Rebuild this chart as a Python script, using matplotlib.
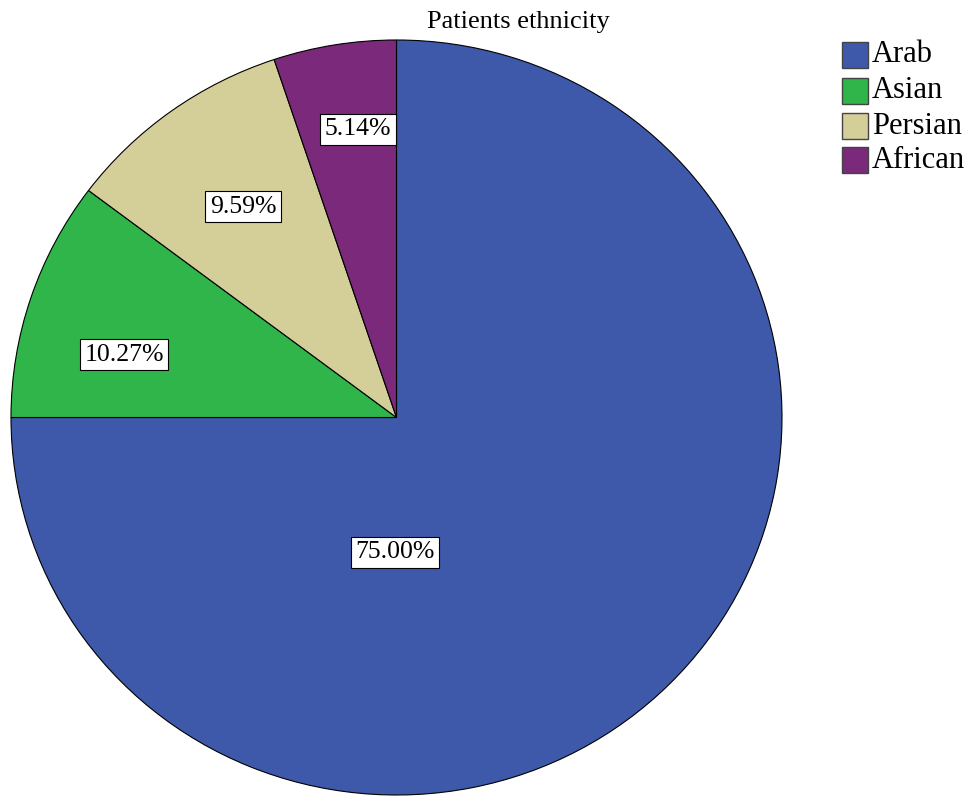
import matplotlib
matplotlib.use("Agg")
import matplotlib.pyplot as plt
from matplotlib.patches import Rectangle

categories = ["Arab", "Asian", "Persian", "African"]
values = [75.00, 10.27, 9.59, 5.14]
colors = ["#3e58aa", "#2fb54a", "#d4ce98", "#7b297b"]
title = "Patients ethnicity"

# label positions (axes data coords), layout only
label_pos = [(-0.004, -0.357), (-0.707, 0.166), (-0.398, 0.558), (-0.100, 0.763)]

plt.rcParams['font.family'] = ['Liberation Serif', 'DejaVu Serif']
W, H = 971, 796
fig = plt.figure(figsize=(W/100, H/100), dpi=100)
ax = fig.add_axes([11/W, (H-795)/H, 771/W, 755/H])
wedges, _ = ax.pie(values, colors=colors, startangle=90, counterclock=False,
                   wedgeprops=dict(edgecolor="black", linewidth=0.8))
ax.set_aspect('auto')
ax.set_xlim(-1, 1)
ax.set_ylim(-1, 1)
ax.axis('off')

for v, (x, y) in zip(values, label_pos):
    ax.text(x, y, f"{v:.2f}%", ha='center', va='center', fontsize=18.5,
            bbox=dict(boxstyle='square,pad=0.18', fc='white', ec='black', lw=0.8))

fig.text(518/W, 1 - 22/H, title, ha='center', va='center', fontsize=19)

# legend
ys = [55, 91, 126, 160]
for c, lab, y in zip(colors, categories, ys):
    fig.patches.append(Rectangle((842/W, 1 - (y+13)/H), 26/W, 26/H, transform=fig.transFigure,
                                 fc=c, ec='#444444', lw=1.0))
    fig.text(872/W, 1 - y/H, lab, ha='left', va='center', fontsize=22)

fig.savefig("out.png", dpi=100)
